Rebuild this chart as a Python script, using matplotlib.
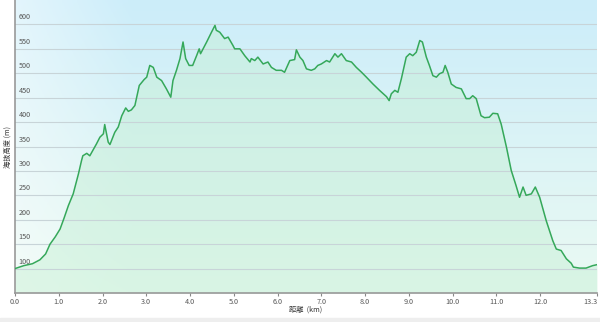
import numpy as np
import matplotlib
matplotlib.use('Agg')
from matplotlib import pyplot as plt

plt.rcParams['font.family'] = ['Noto Sans CJK JP', 'DejaVu Sans']

# distance (km) / elevation (m)
dist = [0.00, 0.20, 0.40, 0.57, 0.70, 0.80, 0.92, 1.03, 1.12, 1.22, 1.33, 1.45, 1.52,
        1.55, 1.64, 1.71, 1.86, 1.94, 2.02, 2.05, 2.13, 2.17, 2.28, 2.36, 2.44, 2.53,
        2.59, 2.66, 2.74, 2.84, 2.95, 3.01, 3.08, 3.16, 3.24, 3.35, 3.46, 3.56, 3.61,
        3.69, 3.77, 3.84, 3.90, 3.98, 4.06, 4.15, 4.21, 4.24, 4.38, 4.49, 4.57, 4.60,
        4.68, 4.79, 4.87, 4.98, 5.02, 5.14, 5.25, 5.37, 5.40, 5.48, 5.55, 5.67, 5.78,
        5.86, 5.97, 6.09, 6.16, 6.28, 6.39, 6.43, 6.51, 6.58, 6.66, 6.77, 6.85, 6.92,
        7.00, 7.12, 7.19, 7.31, 7.38, 7.46, 7.57, 7.69, 7.80, 7.92, 8.03, 8.18, 8.33,
        8.49, 8.55, 8.60, 8.68, 8.75, 8.83, 8.94, 9.02, 9.09, 9.17, 9.25, 9.31, 9.40,
        9.47, 9.55, 9.63, 9.70, 9.78, 9.83, 9.89, 9.97, 10.08, 10.20, 10.31, 10.39,
        10.46, 10.54, 10.65, 10.73, 10.84, 10.92, 11.03, 11.11, 11.23, 11.34, 11.45,
        11.53, 11.61, 11.68, 11.80, 11.89, 11.99, 12.14, 12.29, 12.37, 12.48, 12.60,
        12.71, 12.76, 12.90, 13.05, 13.20, 13.30]
elev = [100, 106, 110, 118, 130, 150, 165, 181, 203, 229, 253, 294, 321,
        331, 336, 331, 355, 369, 376, 395, 359, 354, 379, 390, 413, 429,
        422, 425, 434, 475, 487, 492, 516, 512, 492, 485, 468, 451, 485,
        506, 530, 564, 530, 516, 516, 536, 550, 540, 564, 584, 598, 588,
        584, 571, 574, 557, 550, 550, 536, 523, 530, 526, 533, 519, 523,
        512, 506, 506, 502, 526, 528, 548, 533, 526, 509, 506, 509, 516,
        519, 526, 523, 540, 533, 540, 526, 523, 512, 502, 492, 478, 465,
        452, 444, 458, 465, 461, 489, 533, 540, 536, 543, 567, 564, 533,
        516, 495, 492, 499, 502, 516, 502, 478, 471, 468, 448, 448,
        454, 448, 413, 409, 410, 418, 417, 396, 349, 301, 270,
        246, 267, 250, 253, 267, 246, 198, 157, 140, 137, 120,
        111, 103, 101, 101, 106, 108]

x_ticks = [0, 1, 2, 3, 4, 5, 6, 7, 8, 9, 10, 11, 12, 13.3]
y_ticks = [100, 150, 200, 250, 300, 350, 400, 450, 500, 550, 600]

fig = plt.figure(figsize=(6, 3.22), dpi=100)
ax = fig.add_axes([15/600, 29/322, 582/600, 293/322])

xmin, xmax, ymin, ymax = 0, 13.3, 50, 650

# background gradient: light blue at top, mint at bottom, paler at left
v = np.linspace(0, 1, 100)[:, None]
h = np.linspace(0, 1, 200)[None, :]
top = np.array([0.80, 0.93, 0.98])
bot = np.array([0.92, 0.98, 0.95])
img = top * (1 - v[..., None]) + bot * v[..., None]
img = img * np.ones((1, 200, 1))
white = np.clip(1 - h * 5, 0, 1)[..., None] * 0.45
img = img * (1 - white) + white
ax.imshow(img, extent=[xmin, xmax, ymin, ymax], origin='upper', aspect='auto', zorder=0)

ax.fill_between(dist, elev, ymin, color='#c4efd3', alpha=0.45, zorder=1, lw=0)
ax.plot(dist, elev, color='#35a85a', lw=1.1, zorder=3)

for yv in y_ticks:
    ax.axhline(yv, color='#c8d4d8', lw=0.8, zorder=2)
    ax.text(0.08, yv + 6, str(yv), fontsize=5.2, color='#555555', va='bottom', ha='left', zorder=4)

ax.set_xlim(xmin, xmax)
ax.set_ylim(ymin, ymax)
ax.set_yticks([])
ax.set_xticks(x_ticks)
ax.set_xticklabels(['%.1f' % t for t in x_ticks], fontsize=5.2, color='#555555')
ax.tick_params(axis='x', length=2, width=0.8, color='#888888', pad=1.5)
ax.get_xticklabels()[-1].set_horizontalalignment('right')
for s in ['top', 'right']:
    ax.spines[s].set_visible(False)
ax.spines['left'].set_color('#999999')
ax.spines['bottom'].set_color('#999999')
ax.spines['left'].set_linewidth(1.2)
ax.spines['bottom'].set_linewidth(1.2)

fig.text(8/600, 1 - 147/322, '海抜高度 (m)', rotation=90, fontsize=5.2, ha='center', va='center', color='#333333')
fig.text(306/600, 1 - 310/322, '距離  (km)', fontsize=5.2, ha='center', va='center', color='#333333')

# light gray strip at the very bottom
fig.patches.append(plt.Rectangle((0, 0), 1, 4/322, transform=fig.transFigure, color='#eeeeee', zorder=0))

plt.savefig('out.png', dpi=100)
